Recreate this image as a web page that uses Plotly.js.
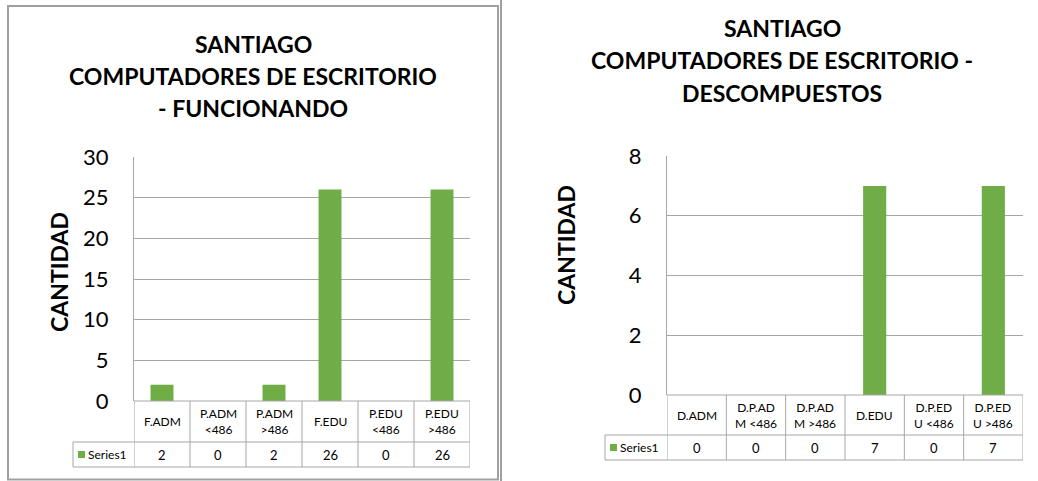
<!DOCTYPE html>
<html><head><meta charset="utf-8">
<script src="https://cdn.plot.ly/plotly-3.0.1.min.js"></script>
<style>html,body{margin:0;padding:0;background:#fff}</style>
</head><body>
<div id="chart" style="width:1038px;height:481px"></div>
<script>
// ---- data ----
const leftCategories = ['F.ADM', 'P.ADM <486', 'P.ADM >486', 'F.EDU', 'P.EDU <486', 'P.EDU >486'];
const leftTableLabels = ['F.ADM', 'P.ADM<br>&lt;486', 'P.ADM<br>&gt;486', 'F.EDU', 'P.EDU<br>&lt;486', 'P.EDU<br>&gt;486'];
const leftValues = [2, 0, 2, 26, 0, 26];
const rightCategories = ['D.ADM', 'D.P.ADM <486', 'D.P.ADM >486', 'D.EDU', 'D.P.EDU <486', 'D.P.EDU >486'];
const rightTableLabels = ['D.ADM', 'D.P.AD<br>M &lt;486', 'D.P.AD<br>M &gt;486', 'D.EDU', 'D.P.ED<br>U &lt;486', 'D.P.ED<br>U &gt;486'];
const rightValues = [0, 0, 0, 7, 0, 7];
const seriesName = 'Series1';
const leftTitleLines = ['SANTIAGO', 'COMPUTADORES DE ESCRITORIO', '- FUNCIONANDO'];
const rightTitleLines = ['SANTIAGO', 'COMPUTADORES DE ESCRITORIO -', 'DESCOMPUESTOS'];
const yTitleText = 'CANTIDAD';
const leftRange = [0, 30], leftDtick = 5;
const rightRange = [0, 8], rightDtick = 2;

// ---- styling / layout helpers ----
const W = 1038, H = 481;
const fx = x => x / W, fy = y => 1 - y / H;
const green = '#70AD47', lineCol = '#A6A6A6', frameCol = '#A0A0A0';
const FONT = 'Lato, "Open Sans", sans-serif';
const L = {x0: 134, x1: 470, top: 157, base: 401, row1: 442, row2: 467, leg: 73, titleX: 253, titleY: [44, 76, 108], yTitleX: 59, yTitleY: 272};
const R = {x0: 667, x1: 1023, top: 156, base: 395, row1: 435, row2: 460, leg: 605, titleX: 782, titleY: [28, 60, 93], yTitleX: 566, yTitleY: 245};

function yAxisDef(G, range, dtick) {
  return {
    domain: [fy(G.base), fy(G.top)], range: range, dtick: dtick, tick0: 0,
    showgrid: true, gridcolor: lineCol, gridwidth: 1, zeroline: false,
    showline: true, linecolor: lineCol, linewidth: 1, ticks: '',
    ticklabelstandoff: 20, tickfont: {family: FONT, size: 22, color: '#000'}, fixedrange: true
  };
}
function xAxisDef(G, cats, yname) {
  return {
    domain: [fx(G.x0), fx(G.x1)], type: 'category', categoryarray: cats, range: [-0.5, cats.length - 0.5],
    showticklabels: false, showgrid: false, zeroline: false, showline: false, ticks: '', anchor: yname, fixedrange: true
  };
}

const shapes = [], annotations = [];
function tableFor(G, xref, cats, labels, values) {
  const ln = {color: lineCol, width: 1};
  shapes.push({type: 'line', xref: 'paper', yref: 'paper', x0: fx(G.x0), x1: fx(G.x1), y0: fy(G.base), y1: fy(G.base), line: ln});
  shapes.push({type: 'line', xref: 'paper', yref: 'paper', x0: fx(G.leg), x1: fx(G.x1), y0: fy(G.row1), y1: fy(G.row1), line: ln});
  shapes.push({type: 'line', xref: 'paper', yref: 'paper', x0: fx(G.leg), x1: fx(G.x1), y0: fy(G.row2), y1: fy(G.row2), line: ln});
  shapes.push({type: 'line', xref: 'paper', yref: 'paper', x0: fx(G.leg), x1: fx(G.leg), y0: fy(G.row1), y1: fy(G.row2), line: ln});
  for (let i = 0; i <= cats.length; i++) {
    shapes.push({type: 'line', xref: xref, yref: 'paper', x0: i - 0.5, x1: i - 0.5, y0: fy(G.base), y1: fy(G.row2), line: ln});
  }
  cats.forEach((c, i) => {
    annotations.push({xref: xref, yref: 'paper', x: c, y: fy((G.base + G.row1) / 2), text: labels[i], showarrow: false,
      font: {family: FONT, size: 12, color: '#000'}, align: 'center', xanchor: 'center', yanchor: 'middle'});
    annotations.push({xref: xref, yref: 'paper', x: c, y: fy((G.row1 + G.row2) / 2), text: String(values[i]), showarrow: false,
      font: {family: FONT, size: 13, color: '#000'}, xanchor: 'center', yanchor: 'middle'});
  });
  const ym = (G.row1 + G.row2) / 2;
  shapes.push({type: 'rect', xref: 'paper', yref: 'paper', x0: fx(G.leg + 5), x1: fx(G.leg + 12), y0: fy(ym + 3.5), y1: fy(ym - 3.5), fillcolor: green, line: {width: 0}});
  annotations.push({xref: 'paper', yref: 'paper', x: fx(G.leg + 13), y: fy(ym), text: seriesName, showarrow: false,
    font: {family: FONT, size: 12, color: '#000'}, xanchor: 'left', yanchor: 'middle'});
}
function titlesFor(G, lines) {
  lines.forEach((t, i) => annotations.push({xref: 'paper', yref: 'paper', x: fx(G.titleX), y: fy(G.titleY[i]), text: '<b>' + t + '</b>',
    showarrow: false, font: {family: FONT, size: 23, color: '#000'}, xanchor: 'center', yanchor: 'middle'}));
  annotations.push({xref: 'paper', yref: 'paper', x: fx(G.yTitleX), y: fy(G.yTitleY), text: '<b>' + yTitleText + '</b>', textangle: -90,
    showarrow: false, font: {family: FONT, size: 23, color: '#000'}, xanchor: 'center', yanchor: 'middle'});
}

tableFor(L, 'x', leftCategories, leftTableLabels, leftValues);
tableFor(R, 'x2', rightCategories, rightTableLabels, rightValues);
titlesFor(L, leftTitleLines);
titlesFor(R, rightTitleLines);

// chart frame of the left chart and the page line
shapes.push({type: 'rect', xref: 'paper', yref: 'paper', x0: fx(8), x1: fx(498), y0: fy(479.5), y1: fy(6), line: {color: frameCol, width: 2}, layer: 'below'});
shapes.push({type: 'line', xref: 'paper', yref: 'paper', x0: fx(501), x1: fx(501), y0: 0, y1: 1, line: {color: frameCol, width: 2}});

const traces = [
  {type: 'bar', x: leftCategories, y: leftValues, xaxis: 'x', yaxis: 'y', name: seriesName, marker: {color: green}, width: 0.41, hoverinfo: 'skip', showlegend: false},
  {type: 'bar', x: rightCategories, y: rightValues, xaxis: 'x2', yaxis: 'y2', name: seriesName, marker: {color: green}, width: 0.39, hoverinfo: 'skip', showlegend: false}
];

const layout = {
  width: W, height: H, margin: {l: 0, r: 0, t: 0, b: 0},
  paper_bgcolor: '#fff', plot_bgcolor: 'rgba(0,0,0,0)', showlegend: false,
  xaxis: xAxisDef(L, leftCategories, 'y'),
  yaxis: yAxisDef(L, leftRange, leftDtick),
  xaxis2: xAxisDef(R, rightCategories, 'y2'),
  yaxis2: Object.assign(yAxisDef(R, rightRange, rightDtick), {anchor: 'x2'}),
  shapes: shapes, annotations: annotations
};
layout.yaxis.anchor = 'x';
Plotly.newPlot('chart', traces, layout, {displayModeBar: false, staticPlot: true});
</script>
</body></html>
